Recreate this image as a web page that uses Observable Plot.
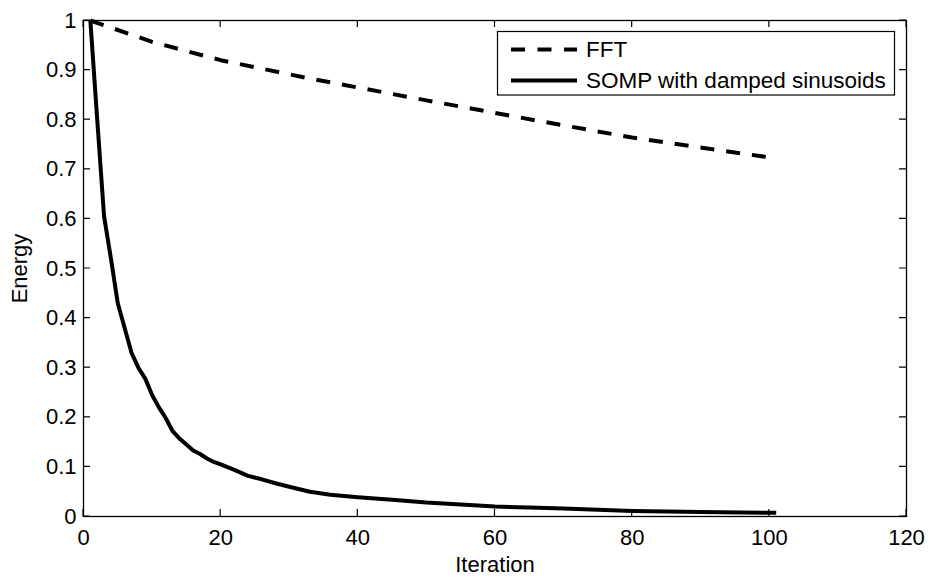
<!DOCTYPE html>
<html>
<head>
<meta charset="utf-8">
<script src="https://cdn.jsdelivr.net/npm/d3@7"></script>
<script src="https://cdn.jsdelivr.net/npm/@observablehq/plot@0.6"></script>
<style>
  html, body { margin: 0; padding: 0; background: #fff; }
  #chart { width: 931px; height: 579px; }
</style>
</head>
<body>
<div id="chart"></div>
<script>
// ---- data ----
const fftIter   = [1, 10, 20, 33, 50, 67, 80, 100];
const fftEnergy = [1.0, 0.957, 0.920, 0.883, 0.839, 0.796, 0.764, 0.724];

const sompIter   = [1, 2, 3, 4, 5, 6, 7, 8, 9, 10, 11, 12, 13, 14, 15, 16, 17, 18, 19, 20,
                    22, 24, 26, 28, 30, 33, 36, 40, 45, 50, 55, 60, 65, 70, 80, 90, 101];
const sompEnergy = [1.0, 0.80, 0.605, 0.52, 0.43, 0.38, 0.33, 0.30, 0.278, 0.245, 0.22, 0.198,
                    0.172, 0.157, 0.145, 0.133, 0.126, 0.117, 0.110, 0.105,
                    0.094, 0.082, 0.075, 0.067, 0.060, 0.050, 0.044, 0.039, 0.034, 0.028,
                    0.024, 0.020, 0.018, 0.016, 0.011, 0.009, 0.0075];

const seriesNames = ["FFT", "SOMP with damped sinusoids"];
const xTicks = [0, 20, 40, 60, 80, 100, 120];
const yTicks = [0, 0.1, 0.2, 0.3, 0.4, 0.5, 0.6, 0.7, 0.8, 0.9, 1];
const xLabel = "Iteration";
const yLabel = "Energy";

const fft  = fftIter.map((x, i) => ({x, y: fftEnergy[i]}));
const somp = sompIter.map((x, i) => ({x, y: sompEnergy[i]}));

const FONT = "Liberation Sans, Arial, Helvetica, sans-serif";
const FS = 22;
const TICK = 7;

const chart = Plot.plot({
  width: 931,
  height: 579,
  marginLeft: 83,
  marginRight: 25,
  marginTop: 20,
  marginBottom: 63,
  style: {fontFamily: FONT, fontSize: FS + "px", color: "#000", background: "#fff", overflow: "visible"},
  x: {domain: [0, 120]},
  y: {domain: [0, 1]},
  marks: [
    Plot.line(fft, {x: "x", y: "y", stroke: "#000", strokeWidth: 4, strokeDasharray: "14,12", strokeLinecap: "butt"}),
    Plot.line(somp, {x: "x", y: "y", stroke: "#000", strokeWidth: 4, strokeLinejoin: "round", strokeLinecap: "butt"}),
    Plot.frame({stroke: "#000", strokeWidth: 1.3}),
    Plot.axisX(xTicks, {anchor: "bottom", tickSize: 0, tickPadding: 13, tickFormat: d => String(d),
      label: xLabel, labelAnchor: "center", labelOffset: 55, labelArrow: "none", fill: "#000"}),
    Plot.axisY(yTicks, {anchor: "left", tickSize: 0, tickPadding: 7, tickFormat: d => String(d),
      label: yLabel, labelAnchor: "center", labelOffset: 72, labelArrow: "none", fill: "#000"})
  ]
});

document.getElementById("chart").appendChild(chart);

const svg = d3.select(chart);
const sx = chart.scale("x"), sy = chart.scale("y");
const xr = sx.range, yr = sy.range;
const xLeft = Math.min(xr[0], xr[1]), xRight = Math.max(xr[0], xr[1]);
const yBottom = Math.max(yr[0], yr[1]), yTop = Math.min(yr[0], yr[1]);

// ---- inward tick marks on all four sides (positions from Plot's scales) ----
const tickPath = [];
xTicks.forEach(v => {
  const px = sx.apply(v);
  tickPath.push(`M${px},${yBottom}V${yBottom - TICK}`);
  tickPath.push(`M${px},${yTop}V${yTop + TICK}`);
});
yTicks.forEach(v => {
  const py = sy.apply(v);
  tickPath.push(`M${xLeft},${py}H${xLeft + TICK}`);
  tickPath.push(`M${xRight},${py}H${xRight - TICK}`);
});
svg.append("path").attr("d", tickPath.join("")).attr("fill", "none")
  .attr("stroke", "#000").attr("stroke-width", 1.2);

// ---- legend (inside the axes, top right) ----
const lg = svg.append("g").attr("font-family", FONT).attr("font-size", 22.5).attr("text-anchor", "start");
lg.append("rect").attr("x", 497.5).attr("y", 31.5).attr("width", 397).attr("height", 63.5)
  .attr("fill", "#fff").attr("stroke", "#000").attr("stroke-width", 1.2);
const styles = [
  {dash: "14,12.5"},
  {dash: null}
];
seriesNames.forEach((name, i) => {
  const cy = 49.5 + i * 31;
  const ln = lg.append("line").attr("x1", 511).attr("x2", 577).attr("y1", cy).attr("y2", cy)
    .attr("stroke", "#000").attr("stroke-width", 4);
  if (styles[i].dash) ln.attr("stroke-dasharray", styles[i].dash);
  lg.append("text").attr("x", 586).attr("y", cy + 7.5).attr("fill", "#000")
    .attr("text-anchor", "start").text(name);
});
</script>
</body>
</html>
